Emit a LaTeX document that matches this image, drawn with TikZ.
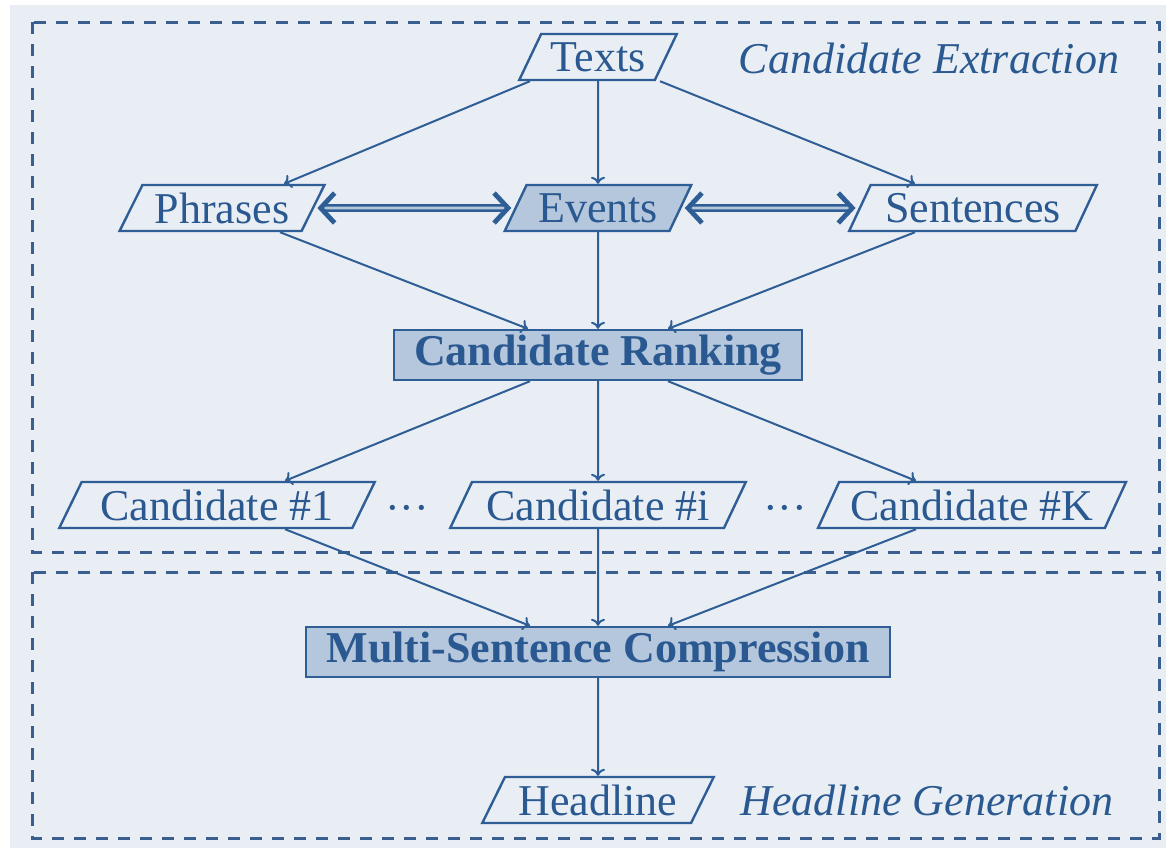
\documentclass[tikz,border=0pt]{standalone}
\usepackage{fontspec}
\setmainfont{Liberation Serif}
\usetikzlibrary{shapes.geometric,arrows.meta,calc}
\definecolor{bgc}{HTML}{E9EEF4}
\definecolor{lnc}{HTML}{2F5E96}
\definecolor{txc}{HTML}{2A5890}
\definecolor{fillc}{HTML}{B5C7DC}
\definecolor{dashc}{HTML}{3A5E8E}
\tikzset{
  para/.style={trapezium, trapezium left angle=58, trapezium right angle=122,
    trapezium stretches=true, draw=lnc, line width=1.2pt, text=txc,
    minimum height=23pt, inner sep=0pt, font=\fontsize{22}{26}\selectfont},
  parafill/.style={para, fill=fillc},
  rbox/.style={rectangle, draw=lnc, fill=fillc, line width=1.2pt, text=txc,
    minimum height=25pt, inner sep=0pt, font=\fontsize{22}{26}\selectfont\bfseries},
  conn/.style={draw=lnc, line width=1pt, -{To[length=3.5pt,width=7pt]}},
  dconn/.style={draw=lnc, line width=1.2pt, double=fillc, double distance=1.4pt,
    {Straight Barb[length=7pt,width=15pt,line width=2.4pt]}-{Straight Barb[length=7pt,width=15pt,line width=2.4pt]}, shorten <=1.5pt, shorten >=1.5pt},
  dbox/.style={draw=dashc, line width=1.5pt, dash pattern=on 6pt off 5pt},
  lbl/.style={text=txc, font=\fontsize{22}{26}\selectfont\itshape},
  dots/.style={text=txc, font=\fontsize{22}{26}\selectfont}
}
\begin{document}
\begin{tikzpicture}[x=0.5pt,y=-0.5pt]
\useasboundingbox (0,0) rectangle (1166,848);
\fill[white] (0,0) rectangle (1166,848);
\fill[bgc] (10,5) rectangle (1166,848);
\draw[dbox] (32,22) rectangle (1159,552);
\draw[dbox] (32,572) rectangle (1159,838);

\node[para, minimum width=79pt] (txt) at (598,57) {Texts};
\node[para, minimum width=103pt] (ph) at (222,208) {Phrases};
\node[parafill, minimum width=94pt] (ev) at (598,208) {Events};
\node[para, minimum width=124pt] (se) at (973,208) {Sentences};
\node[rbox, minimum width=204pt] (cr) at (598,355) {Candidate Ranking};
\node[para, minimum width=158pt] (c1) at (217,505) {Candidate \#1};
\node[dots] (d1) at (407,514) {···};
\node[para, minimum width=148pt] (ci) at (598,505) {Candidate \#i};
\node[dots] (d2) at (785,514) {···};
\node[para, minimum width=154pt] (ck) at (972,505) {Candidate \#K};
\node[rbox, minimum width=292pt] (msc) at (598,652) {Multi-Sentence Compression};
\node[para, minimum width=116pt] (hl) at (598,800) {Headline};
\node[lbl] (l1) at (929,58) {Candidate Extraction};
\node[lbl] (l2) at (927,800) {Headline Generation};

\draw[conn] ([xshift=-34pt]txt.south) -- ([xshift=31pt]ph.north);
\draw[conn] (txt.south) -- (ev.north);
\draw[conn] ([xshift=31pt]txt.south) -- ([xshift=-29pt]se.north);
\draw[dconn] (ph.east) -- (ev.west);
\draw[dconn] (ev.east) -- (se.west);
\draw[conn] ([xshift=29pt]ph.south) -- ([xshift=-35pt]cr.north);
\draw[conn] (ev.south) -- (cr.north);
\draw[conn] ([xshift=-29pt]se.south) -- ([xshift=35pt]cr.north);
\draw[conn] ([xshift=-34pt]cr.south) -- ([xshift=34pt]c1.north);
\draw[conn] (cr.south) -- (ci.north);
\draw[conn] ([xshift=35pt]cr.south) -- ([xshift=-28pt]ck.north);
\draw[conn] ([xshift=34pt]c1.south) -- ([xshift=-34pt]msc.north);
\draw[conn] (ci.south) -- (msc.north);
\draw[conn] ([xshift=-28pt]ck.south) -- ([xshift=35pt]msc.north);
\draw[conn] (msc.south) -- (hl.north);
\end{tikzpicture}
\end{document}
